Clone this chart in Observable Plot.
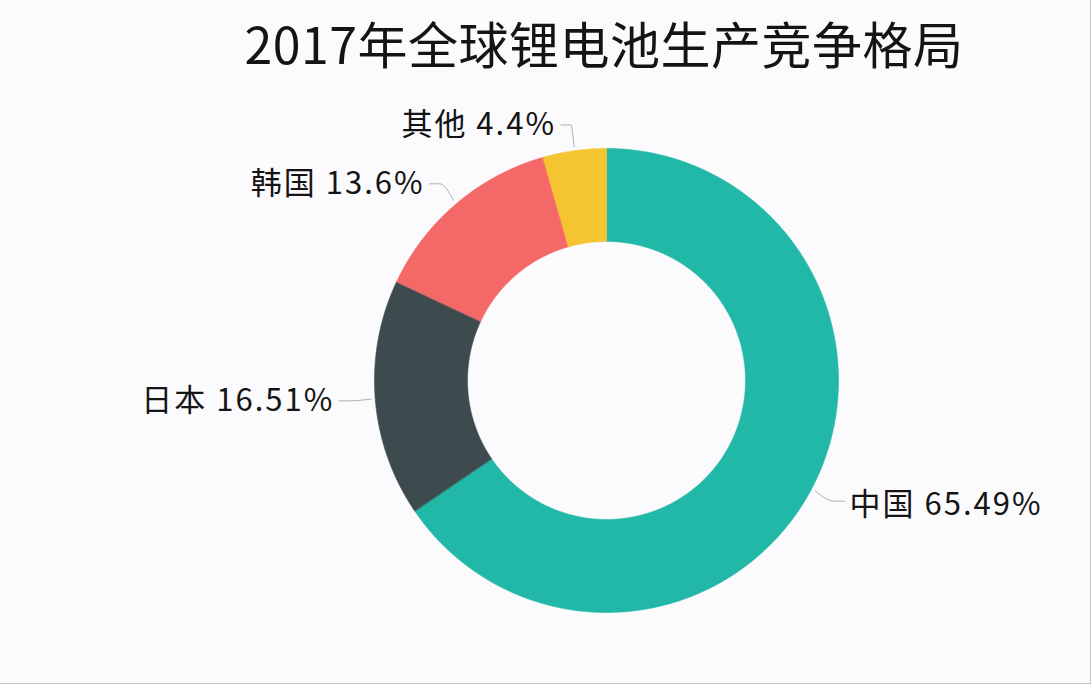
<!DOCTYPE html>
<html>
<head>
<meta charset="utf-8">
<script src="https://cdn.jsdelivr.net/npm/d3@7"></script>
<script src="https://cdn.jsdelivr.net/npm/@observablehq/plot@0.6"></script>
<style>
  html, body { margin: 0; padding: 0; background: #fbfafc; }
  #wrap { width: 1090px; height: 683px; border-right: 1px solid #c4c4c4; border-bottom: 1px solid #c4c4c4; background: #fbfafc; overflow: hidden; }
  #title { height: 90px; line-height: 84px; text-align: center; padding-left: 118px; box-sizing: border-box;
           font-family: "Noto Sans CJK SC", "Noto Sans", sans-serif; font-size: 50px; color: #141414; letter-spacing: 0.5px; }
  #chart svg { display: block; }
  #chart text { letter-spacing: 2px; }
</style>
</head>
<body>
<div id="wrap">
  <div id="title">2017年全球锂电池生产竞争格局</div>
  <div id="chart"></div>
</div>
<script>
// Data
const names = ["中国", "日本", "韩国", "其他"];
const shares = [65.49, 16.51, 13.6, 4.4];
const shareLabels = ["65.49%", "16.51%", "13.6%", "4.4%"];
const colors = ["#21b8a8", "#3d4b4f", "#f56868", "#f4c431"];

// Layout
const W = 1090, H = 593;
const cx = 606, cy = 290;          // donut centre within the svg
const rOuter = 232, rInner = 139;
const rLine0 = 236, rLine1 = 258, hLine = 10, gap = 5;

const pie = d3.pie().sort(null).value(d => d)(shares);

// polygon outline of each ring segment (offsets from centre, y downward)
const ring = [];
pie.forEach((p, i) => {
  const steps = Math.max(2, Math.ceil((p.endAngle - p.startAngle) / 0.008));
  for (let k = 0; k <= steps; k++) {
    const a = p.startAngle + (p.endAngle - p.startAngle) * k / steps;
    ring.push({name: names[i], x: rOuter * Math.sin(a), y: -rOuter * Math.cos(a)});
  }
  for (let k = steps; k >= 0; k--) {
    const a = p.startAngle + (p.endAngle - p.startAngle) * k / steps;
    ring.push({name: names[i], x: rInner * Math.sin(a), y: -rInner * Math.cos(a)});
  }
});

const leaders = [];
const labels = [];
pie.forEach((p, i) => {
  const a = (p.startAngle + p.endAngle) / 2;
  const s = Math.sin(a), c = -Math.cos(a);
  const side = s >= 0 ? 1 : -1;
  const x1 = rLine1 * s, y1 = rLine1 * c;
  leaders.push({name: names[i], x: rLine0 * s, y: rLine0 * c});
  leaders.push({name: names[i], x: x1, y: y1});
  leaders.push({name: names[i], x: x1 + side * hLine, y: y1});
  labels.push({name: names[i], text: names[i] + " " + shareLabels[i], x: x1 + side * (hLine + gap), y: y1, anchor: side > 0 ? "start" : "end"});
});

const plot = Plot.plot({
  width: W, height: H,
  margin: 0,
  x: {domain: [-cx, W - cx], range: [0, W], axis: null},
  y: {domain: [-cy, H - cy], range: [0, H], axis: null},
  color: {domain: names, range: colors},
  style: {background: "transparent"},
  marks: [
    Plot.line(ring, {x: "x", y: "y", z: "name", fill: "name", stroke: "name", strokeWidth: 0.6, curve: "linear-closed"}),
    Plot.line(leaders, {x: "x", y: "y", z: "name", stroke: "#aab3b6", strokeWidth: 1, curve: "monotone-x"}),
    Plot.text(labels.filter(d => d.anchor === "start"), {x: "x", y: "y", text: "text", textAnchor: "start", dy: 4, fontSize: 31, fill: "#141414", fontFamily: "Noto Sans CJK SC"}),
    Plot.text(labels.filter(d => d.anchor === "end"), {x: "x", y: "y", text: "text", textAnchor: "end", dy: 0, fontSize: 31, fill: "#141414", fontFamily: "Noto Sans CJK SC"})
  ]
});
document.getElementById("chart").appendChild(plot);
</script>
</body>
</html>
